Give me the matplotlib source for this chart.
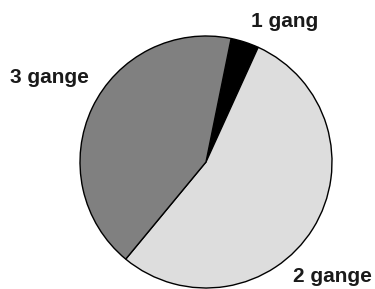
import matplotlib
matplotlib.use("Agg")
import matplotlib.pyplot as plt

labels = ["1 gang", "2 gange", "3 gange"]
shares = [3.6, 54.2, 42.2]
colors = ["#000000", "#dddddd", "#808080"]
# label spots in pie units (center 0,0, radius 1)
label_x = [0.627, 1.0, -1.242]
label_y = [1.071, -0.952, 0.627]

fig = plt.figure(figsize=(3.75, 2.89), dpi=100)
ax = fig.add_axes([80 / 375, 1 / 289, 252 / 375, 252 / 289])
wedges, texts = ax.pie(shares, labels=labels, colors=colors,
                       startangle=78.5, counterclock=False,
                       wedgeprops={"edgecolor": "black", "linewidth": 1.0})
for t, x, y in zip(texts, label_x, label_y):
    t.set_position((x, y))
    t.set_ha("center")
    t.set_va("baseline")
    t.set_fontfamily("Liberation Sans")
    t.set_fontweight("bold")
    t.set_fontsize(15)
    t.set_color("#1a1a1a")
ax.set_xlim(-1, 1)
ax.set_ylim(-1, 1)
ax.set_aspect("equal")
fig.savefig("out.png", dpi=100)
plt.close(fig)
